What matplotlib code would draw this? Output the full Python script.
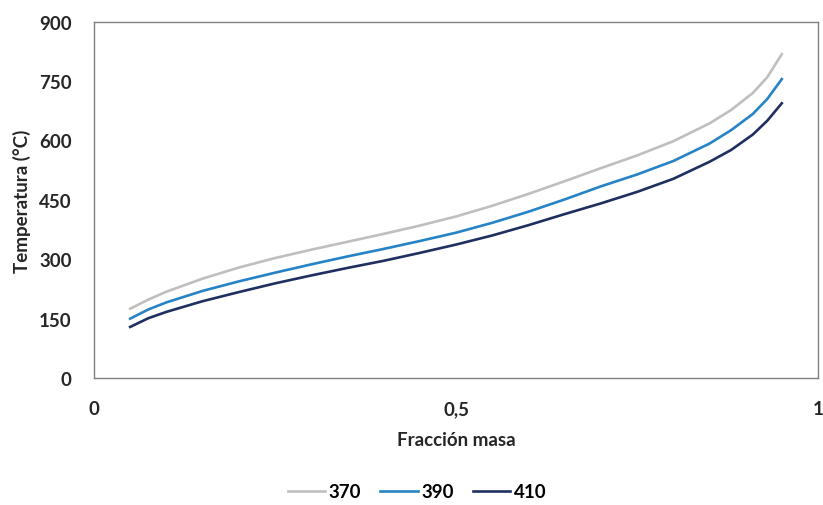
import matplotlib
matplotlib.use("Agg")
import matplotlib.pyplot as plt

plt.rcParams['font.family'] = ['Lato', 'DejaVu Sans']

fraccion = [0.05, 0.075, 0.10, 0.15, 0.20, 0.25, 0.30, 0.35, 0.40, 0.45, 0.50,
            0.55, 0.60, 0.65, 0.70, 0.75, 0.80, 0.85, 0.88, 0.91, 0.93, 0.95]
t370 = [175, 198, 218, 251, 279, 303, 324, 344, 364, 385, 408,
        435, 465, 497, 530, 562, 598, 643, 677, 720, 760, 818]
t390 = [150, 173, 191, 220, 244, 266, 287, 307, 326, 346, 367,
        392, 420, 451, 484, 514, 548, 592, 626, 667, 705, 755]
t410 = [129, 151, 167, 194, 217, 239, 259, 278, 296, 316, 337,
        360, 386, 414, 441, 470, 503, 546, 576, 615, 650, 694]

series_labels = ["370", "390", "410"]
series_colors = ["#BFBFBF", "#2683C6", "#1F2F5F"]

xticks = [0, 0.5, 1]
xtick_labels = ["0", "0,5", "1"]
yticks = [0, 150, 300, 450, 600, 750, 900]

fig = plt.figure(figsize=(8.23, 5.06), dpi=100)
ax = fig.add_axes([94/823, 1-379/506, (818-94)/823, (379-22.7)/506])

for y, lab, c in zip([t370, t390, t410], series_labels, series_colors):
    ax.plot(fraccion, y, color=c, lw=1.9, label=lab, solid_joinstyle='round')

ax.set_xlim(0, 1)
ax.set_ylim(0, 900)
ax.set_xticks(xticks)
ax.set_xticklabels(xtick_labels)
ax.set_yticks(yticks)
ax.tick_params(length=0, labelsize=13.5, colors="#262626")
ax.tick_params(axis='y', pad=16)
ax.tick_params(axis='x', pad=16)
for lbl in ax.get_xticklabels() + ax.get_yticklabels():
    lbl.set_fontweight('bold')
for s in ax.spines.values():
    s.set_color("#808080")
    s.set_linewidth(1)

ax.set_xlabel("Fracción masa", fontsize=13.5, fontweight='bold', color="#262626", labelpad=10)
ax.set_ylabel("Temperatura (°C)", fontsize=13.5, fontweight='bold', color="#262626", labelpad=6)

fig.legend(loc='center', bbox_to_anchor=(417/823, 1-493/506), ncol=3, frameon=False,
           prop={'size': 13.5, 'weight': 'bold'}, handlelength=2.0, handletextpad=0.2,
           columnspacing=1.0)

fig.savefig("out.png", dpi=100)
